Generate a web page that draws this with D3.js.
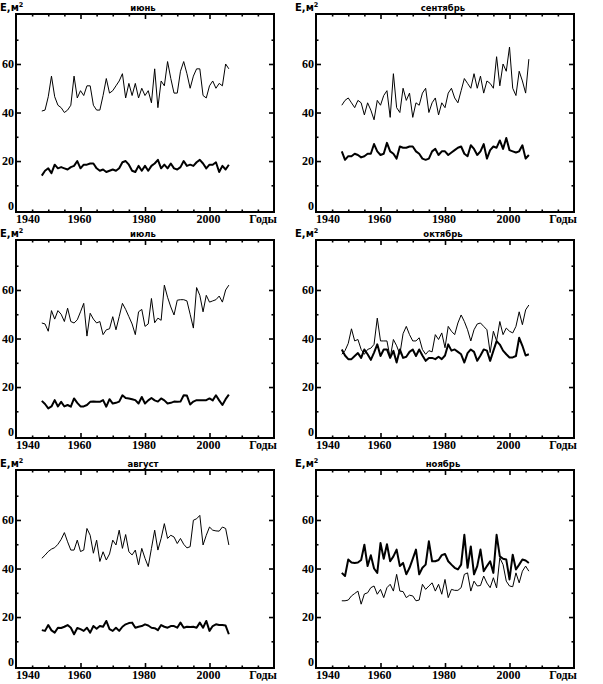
<!DOCTYPE html>
<html><head><meta charset="utf-8">
<script src="https://cdn.jsdelivr.net/npm/d3@7"></script>
<style>
body{margin:0;background:#fff;}
svg{display:block;}
</style></head>
<body>
<svg id="c" width="603" height="684"></svg>
<script>
// ---- data ----
const years = d3.range(1948, 2007);
const titles = ["июнь", "сентябрь", "июль", "октябрь", "август", "ноябрь"];
const xMajorTicks = [1940, 1960, 1980, 2000];
const yTickLabels = [0, 20, 40, 60];
const xAxisLabel = "Годы";
const yAxisLabel = "E,м";

const junThin = [40.6,41,46.5,55,46.5,43,42,40,41,43,55,46,49,47,51,51,43,41,41,47,54,48,49,51,53,56,46,52,47,52,46,50,47,49,44,58,42,53,51,61,54,48,48,57,61,56,50,55,58,58,47,46,51,53,50,52,51,60,58];
const junThick = [14,16,17,15,18.5,17,17.5,17,16.5,17.5,18,20,17,18.5,18.5,19,19,17,16,16.5,15.5,16,16.5,16,17,19.5,20,18.5,16,15.5,18,16,18,16,18,19,20.5,17,18.5,17,19,17,16.5,17.5,20,18,18.5,18,19.5,20.5,19,17,18.5,18.5,19.5,15.5,18,16.5,18.5];

const sepThin = [43,45,46,44,42,45,44,39,44,41,37,45,43,47,49,38,56,42,40,50,45,48,38,44,43,48,50,40,44,46,39,44,42,48,50,46,44,49,54,52,50,56,50,55,48,53,52,50,63,51,60,57,67,50,47,57,53,48,62];
const sepThick = [24,20.5,22,22,23,22.5,21.5,22,23,23,27,24,22.5,23,27.5,24,23,21,26,25.5,25.5,26,26,24,23,21,20.5,21,24,25,22.5,24,24,22.5,23.5,24.5,25.5,26,23,22,26.5,25,22.5,24,27,21,24.5,26,25.5,28.5,25,29.5,24.5,24,23.5,24,26.5,21,22.5];

const julThin = [46.4,46,43,51.5,48,51.5,50,47,52.5,47,46.4,47.7,51,54.5,41,50.4,48,46.4,47,41.6,43.6,44,49,43.6,49,54.5,52,49,46,41.6,51,52,45,46,56.5,46.5,48.4,47.5,62,57,53,49.7,55.8,56,56,55.5,50,44.3,61,57.8,51,57.8,55,55.5,56,57.5,55,60,62];
const julThick = [14.3,13,11.2,12,14.6,12,13.9,12,12.6,11.9,15.3,13.5,12,12,12.6,13.9,14,13.9,13.9,14.6,11.9,15,13.2,13.5,14,16.6,15.5,15.3,15,14.6,13.2,15.9,13.2,14.5,15.5,14.5,14,15.3,14.5,13.2,13.5,14,13.9,14,16.6,16.5,12.8,14,14.6,14.6,14.6,14.6,15.3,14.5,16.6,14.5,12.6,15,16.9];

const octThin = [33.5,35,38,44,39,39.6,35.5,33.5,35.5,36,37.6,48.4,39,39,39,32,39.6,37,33.5,42,45,41.6,39,39,40.3,35.5,33.5,35,34.5,41.6,39.6,42.3,36.2,45,43,41.6,46.4,49.7,47,43.6,39,43.6,46,46.4,45,43.6,34.2,43,39,47,41.6,44.3,43,42.3,45,51,45.7,51.8,53.8];
const octThick = [35.5,33,31.5,31.5,32.8,34,32,35.5,33.5,31.2,34.2,37.6,32.8,35.5,35.5,32,34.9,30.1,35.5,32,32.5,34.5,35.5,32.8,35.5,33,30.8,32,32,31.5,32.5,31.5,33,37.6,35,35.5,34.5,33.5,30.1,34,35.5,34.5,30.8,33,35.5,35,30.8,34.9,38.9,37.5,35,33.5,32.2,32.2,32.8,40.3,37,33,33.5];

const augThin = [44.2,45.5,47,48,48.6,50,52,54.8,51,47.6,47.6,51.7,47,47.6,56.5,53.7,46.3,51.7,42.9,46.9,43.5,46,51.7,49.7,55.8,48.3,54,46.9,45.6,47.6,41.5,48.3,44.2,40.8,48.3,55.8,47.6,52.4,58.5,52.4,53.7,53,50.3,52.4,50,48.5,49,59.9,60.5,61.9,49.7,53.7,57.1,55.8,55.5,55.4,57.1,56.5,49.7];
const augThick = [14.6,14.3,16.7,14.5,13.6,15.6,15.5,16,16.7,15.6,12.9,15.5,15,14.3,15.6,13.6,16.3,15.2,16.3,16,18.4,15,14.3,15.6,14.3,16,17,17.5,17.7,15.6,16,16.3,17,16.5,15.6,15.4,14.6,16.7,16,15.6,16.3,16.3,15.6,17.7,15.6,16,15.9,16,15.6,17.7,15.6,18.4,14.3,16.3,17,16.7,16.7,16.5,12.9];

const novThin = [26.7,26.7,27,28.7,29.7,30.7,25.3,29.5,30,32.1,32.8,29.4,31.4,28,32.1,33.5,30.7,37.6,30.7,30.5,28,29,28.7,26.7,27,33.5,31.4,32.8,34.1,30.7,33.5,29.4,35.5,28,31.4,31,31,32.1,37.6,38.2,30.7,34.8,32.8,33,36.9,34,32.1,36.2,32,44.4,41.6,34.8,32.8,32.5,38.2,34.1,38.9,41,38.9];
const novThick = [38.2,36.9,43.7,42.5,42.3,42.5,43.5,49.8,41,45.5,40,38.2,50.5,44,50,43,45,47.8,41,42.3,37.6,40.3,44,47.8,37.6,40.3,41.6,51.2,43,43,43.5,45.5,46,43,41.6,40.3,39.6,41.6,53.9,40.3,49.1,37.6,41,47.8,38.9,41,43,38.2,53.9,45,44,43.7,35.5,45.7,39.6,41.6,43.7,43.3,42.3];

const thinSeries = [junThin, sepThin, julThin, octThin, augThin, novThin];
const thickSeries = [junThick, sepThick, julThick, octThick, augThick, novThick];

// ---- layout ----
const colLeft = [16, 316];
const rowTop = [14, 240, 470];
const pw = 258, ph = 198;
const SERIF = "'Liberation Serif', 'Times New Roman', 'DejaVu Serif', serif";
const SANS = "'DejaVu Sans', 'Liberation Sans', Arial, sans-serif";

const svg = d3.select("#c");
svg.append("rect").attr("width",603).attr("height",684).attr("fill","#fff");

function tickLabel(g) {
  return g.append("text").style("font-family", SERIF).style("font-weight","bold")
    .style("font-size","12px").attr("fill","#000");
}

titles.forEach((title, i) => {
  const col = i % 2, row = Math.floor(i / 2);
  const L = colLeft[col], T = rowTop[row], R = L + pw, B = T + ph;
  const x = d3.scaleLinear().domain([1940, 2020]).range([L, R]);
  const y = d3.scaleLinear().domain([-1, 80.6]).range([B, T]);
  const g = svg.append("g");

  const line = d3.line().x((d, k) => x(years[k])).y(d => y(d));
  g.append("path").datum(thinSeries[i]).attr("d", line)
    .attr("fill","none").attr("stroke","#000").attr("stroke-width",1);
  g.append("path").datum(thickSeries[i]).attr("d", line)
    .attr("fill","none").attr("stroke","#000").attr("stroke-width",2).attr("stroke-linejoin","round");

  // ticks via axes
  const xMinor = d3.range(1945, 2020, 5).filter(v => v % 20 !== 0);
  const xMaj = [1960, 1980, 2000];
  const yMinor = [10, 30, 50, 70];
  const yMaj = [20, 40, 60];
  const addAxis = (axisFn, scale, vals, len, tr) => {
    const a = g.append("g").attr("transform", tr)
      .call(axisFn(scale).tickValues(vals).tickSize(-len).tickFormat(""));
    a.select(".domain").remove();
    a.selectAll("line").attr("stroke","#000").attr("stroke-width",1.6);
  };
  addAxis(d3.axisBottom, x, xMinor, 2.5, `translate(0,${B})`);
  addAxis(d3.axisBottom, x, xMaj, 5, `translate(0,${B})`);
  addAxis(d3.axisTop, x, xMinor, 2.5, `translate(0,${T})`);
  addAxis(d3.axisTop, x, xMaj, 5, `translate(0,${T})`);
  addAxis(d3.axisLeft, y, yMinor, 2.5, `translate(${L},0)`);
  addAxis(d3.axisLeft, y, yMaj, 5, `translate(${L},0)`);
  addAxis(d3.axisRight, y, yMinor, 2.5, `translate(${R},0)`);
  addAxis(d3.axisRight, y, yMaj, 5, `translate(${R},0)`);

  g.append("rect").attr("x",L).attr("y",T).attr("width",pw).attr("height",ph)
    .attr("fill","none").attr("stroke","#000").attr("stroke-width",2);

  // x tick labels
  xMajorTicks.forEach(v => {
    tickLabel(g)
      .attr("x", v === 1940 ? x(v) : x(v) - 1)
      .attr("y", B + 11)
      .attr("text-anchor", v === 1940 ? "start" : "middle")
      .text(v);
  });
  tickLabel(g).attr("x", R + 3).attr("y", B + 11)
    .attr("text-anchor","end").text(xAxisLabel);

  // y tick labels
  yTickLabels.forEach(v => {
    tickLabel(g)
      .attr("x", L - 2).attr("y", Math.min(y(v), B - 6)).attr("dy","0.35em")
      .attr("text-anchor","end").text(v);
  });

  // title
  g.append("text").style("font-family", SANS).style("font-weight","bold").style("font-size","8.5px")
    .attr("x", (L + R) / 2 - 2).attr("y", T - 3)
    .attr("text-anchor","middle").text(title);

  // y axis label
  const yl = g.append("text").style("font-family", SANS).style("font-weight","bold").style("font-size","10px")
    .attr("x", Math.max(0, L - 21)).attr("y", T - 3);
  yl.append("tspan").text(yAxisLabel);
  yl.append("tspan").style("font-size","6.5px").attr("dy","-4").text("2");
});
</script>
</body></html>
